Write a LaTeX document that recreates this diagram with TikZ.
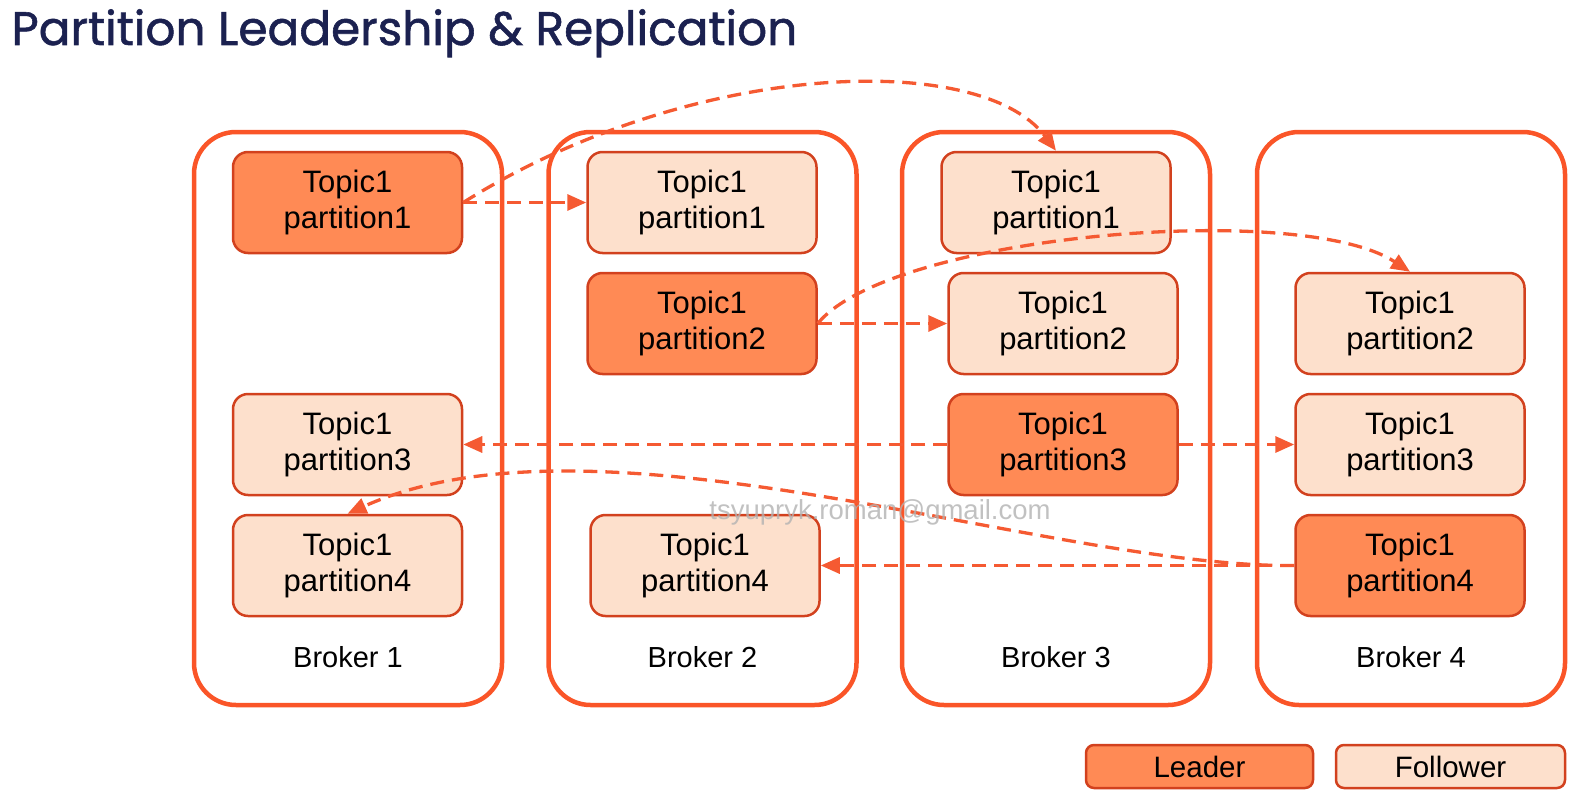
\documentclass[tikz,border=0pt]{standalone}
\usepackage{fontspec}
\setmainfont{Liberation Sans}
\newfontfamily\titlefont{Poppins}[FakeBold=1.2]
\usetikzlibrary{arrows.meta}
\definecolor{brokerred}{RGB}{250,85,40}
\definecolor{leaderfill}{RGB}{255,138,85}
\definecolor{followerfill}{RGB}{253,224,204}
\definecolor{boxedge}{RGB}{210,65,30}
\definecolor{arrowred}{RGB}{245,90,50}
\definecolor{titleblue}{RGB}{27,33,80}

\begin{document}
\begin{tikzpicture}[x=1pt, y=-1pt,
  broker/.style={rectangle, draw=brokerred, line width=4.5pt,
    rounded corners=42pt, minimum width=308pt, minimum height=573pt},
  leader/.style={rectangle, draw=boxedge, line width=2.5pt, fill=leaderfill,
    rounded corners=15pt, minimum width=229pt, minimum height=101pt,
    align=center, inner sep=0pt, font=\fontsize{31}{35.5}\selectfont},
  follower/.style={leader, fill=followerfill},
  brokerlabel/.style={font=\fontsize{29}{32}\selectfont},
  legendbox/.style={rectangle, draw=boxedge, line width=2.5pt,
    rounded corners=8pt, minimum width=227pt, minimum height=43pt,
    inner sep=0pt, font=\fontsize{29.5}{32}\selectfont},
  arrow/.style={-{Triangle[length=19pt,width=16pt]}, draw=arrowred,
    line width=3.3pt, dash pattern=on 14pt off 8pt},
]
\useasboundingbox (0,0) rectangle (1584,808);

\node[anchor=base west, text=titleblue,
  font=\titlefont\fontsize{47}{50}\selectfont] (title) at (8,45)
  {Partition Leadership \& Replication};

\node[broker] (broker1) at (348,418.5) {};
\node[broker] (broker2) at (702.5,418.5) {};
\node[broker] (broker3) at (1056,418.5) {};
\node[broker] (broker4) at (1411,418.5) {};

\node[brokerlabel] (bl1) at (348,657) {Broker 1};
\node[brokerlabel] (bl2) at (702.5,657) {Broker 2};
\node[brokerlabel] (bl3) at (1056,657) {Broker 3};
\node[brokerlabel] (bl4) at (1411,657) {Broker 4};

\node[leader] (b1p1) at (347.5,202.5) {Topic1\\partition1};
\node[follower] (b1p3) at (347.5,444.5) {Topic1\\partition3};
\node[follower] (b1p4) at (347.5,565.5) {Topic1\\partition4};

\node[follower] (b2p1) at (702,202.5) {Topic1\\partition1};
\node[leader] (b2p2) at (702,323.5) {Topic1\\partition2};
\node[follower] (b2p4) at (705,565.5) {Topic1\\partition4};

\node[follower] (b3p1) at (1056,202.5) {Topic1\\partition1};
\node[follower] (b3p2) at (1063,323.5) {Topic1\\partition2};
\node[leader] (b3p3) at (1063,444.5) {Topic1\\partition3};

\node[follower] (b4p2) at (1410,323.5) {Topic1\\partition2};
\node[follower] (b4p3) at (1410,444.5) {Topic1\\partition3};
\node[leader] (b4p4) at (1410,565.5) {Topic1\\partition4};

\draw[arrow] (b1p1) -- (b2p1);
\draw[arrow] (b1p1.east) .. controls (690,60) and (980,50) .. (b3p1.north);
\draw[arrow] (b2p2) -- (b3p2);
\draw[arrow] (b2p2.east) .. controls (890,235) and (1300,200) .. (b4p2.north);
\draw[arrow] (b3p3) -- (b1p3);
\draw[arrow] (b3p3) -- (b4p3);
\draw[arrow] (b4p4) -- (b2p4);
\draw[arrow] (b4p4.west) .. controls (1050,568) and (600,400) .. (b1p4.north);

\node[font=\fontsize{27.5}{30}\selectfont, text=black!30, opacity=0.8]
  (mark) at (880,512) {tsyupryk.roman@gmail.com};

\node[legendbox, fill=leaderfill] (leg1) at (1199.5,766.5) {Leader};
\node[legendbox, fill=followerfill, minimum width=229pt] (leg2)
  at (1450.5,766.5) {Follower};

\end{tikzpicture}
\end{document}
